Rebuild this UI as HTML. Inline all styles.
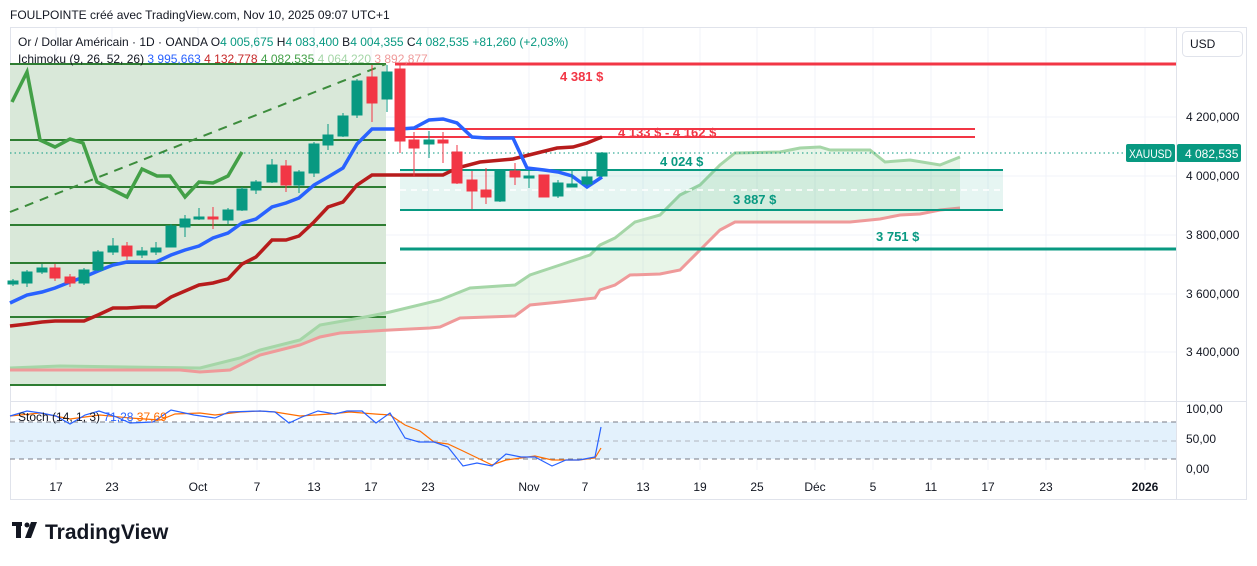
<!DOCTYPE html>
<html><head><meta charset="utf-8"><style>
body{margin:0;background:#fff;width:1257px;height:561px;overflow:hidden;font-family:"Liberation Sans",sans-serif}
svg text{font-family:"Liberation Sans",sans-serif}
</style></head><body>
<svg width="1257" height="561" viewBox="0 0 1257 561" xmlns="http://www.w3.org/2000/svg">
<text x="10" y="19" font-size="12" fill="#131722">FOULPOINTE créé avec TradingView.com, Nov 10, 2025 09:07 UTC+1</text>
<rect x="10.5" y="27.5" width="1236" height="472" fill="#fff" stroke="#e0e3eb"/>
<g stroke="#f0f3fa" stroke-width="1">
<line x1="56" y1="28" x2="56" y2="470"/><line x1="112" y1="28" x2="112" y2="470"/><line x1="198" y1="28" x2="198" y2="470"/><line x1="257" y1="28" x2="257" y2="470"/><line x1="314" y1="28" x2="314" y2="470"/><line x1="371" y1="28" x2="371" y2="470"/><line x1="428" y1="28" x2="428" y2="470"/><line x1="529" y1="28" x2="529" y2="470"/><line x1="585" y1="28" x2="585" y2="470"/><line x1="643" y1="28" x2="643" y2="470"/><line x1="700" y1="28" x2="700" y2="470"/><line x1="757" y1="28" x2="757" y2="470"/><line x1="815" y1="28" x2="815" y2="470"/><line x1="873" y1="28" x2="873" y2="470"/><line x1="931" y1="28" x2="931" y2="470"/><line x1="988" y1="28" x2="988" y2="470"/><line x1="1046" y1="28" x2="1046" y2="470"/><line x1="1145" y1="28" x2="1145" y2="470"/>
<line x1="10" y1="117" x2="1176" y2="117"/><line x1="10" y1="176" x2="1176" y2="176"/><line x1="10" y1="235" x2="1176" y2="235"/><line x1="10" y1="294" x2="1176" y2="294"/><line x1="10" y1="352" x2="1176" y2="352"/>
</g>
<line x1="10" y1="401.5" x2="1247" y2="401.5" stroke="#e0e3eb"/>
<line x1="1176.5" y1="28" x2="1176.5" y2="500" stroke="#e0e3eb"/>
<rect x="10" y="64" width="376" height="321" fill="#d9e8d9"/>
<g stroke="#2e7d32" stroke-width="2">
<line x1="10" y1="64" x2="386" y2="64"/><line x1="10" y1="140" x2="386" y2="140"/><line x1="10" y1="187" x2="386" y2="187"/><line x1="10" y1="225" x2="386" y2="225"/><line x1="10" y1="263" x2="386" y2="263"/><line x1="10" y1="317" x2="386" y2="317"/><line x1="10" y1="385" x2="386" y2="385"/>
</g>
<line x1="10" y1="212" x2="386" y2="64" stroke="#3c8c3c" stroke-width="2" stroke-dasharray="9,7"/>
<polygon fill="#4caf50" fill-opacity="0.13" points="10,368 60,366 200,368 240,358 260,350 300,340 320,325 360,318 390,312 440,300 470,288 515,285 530,275 560,265 590,255 600,245 615,238 635,222 660,215 680,195 700,185 720,165 735,153 780,152 800,148 820,147 830,150 870,150 885,162 910,160 940,165 960,157 960,208 940,210 920,214 900,215 880,219 850,222 735,222 720,230 700,250 680,270 660,274 630,275 615,285 600,290 595,298 560,302 530,305 515,316 460,318 440,327 430,328 390,330 340,333 320,337 300,345 280,350 260,355 230,370 200,372 180,370 10,370"/>
<polyline fill="none" stroke="#a5d6a7" stroke-width="3" points="10,368 60,366 200,368 240,358 260,350 300,340 320,325 360,318 390,312 440,300 470,288 515,285 530,275 560,265 590,255 600,245 615,238 635,222 660,215 680,195 700,185 720,165 735,153 780,152 800,148 820,147 830,150 870,150 885,162 910,160 940,165 960,157"/>
<polyline fill="none" stroke="#ef9a9a" stroke-width="3" points="10,370 180,370 200,372 230,370 260,355 280,350 300,345 320,337 340,333 390,330 430,328 440,327 460,318 515,316 530,305 560,302 595,298 600,290 615,285 630,275 660,274 680,270 700,250 720,230 735,222 850,222 880,219 900,215 920,214 940,210 960,208"/>
<rect x="400" y="170" width="603" height="40" fill="#089981" fill-opacity="0.1"/>
<line x1="400" y1="190" x2="1003" y2="190" stroke="#fff" stroke-width="1.5" stroke-dasharray="6,5"/>
<line x1="400" y1="170" x2="1003" y2="170" stroke="#089981" stroke-width="2"/>
<line x1="400" y1="210" x2="1003" y2="210" stroke="#089981" stroke-width="2"/>
<line x1="400" y1="249" x2="1176" y2="249" stroke="#089981" stroke-width="3"/>
<line x1="395" y1="64" x2="1176" y2="64" stroke="#f23645" stroke-width="3"/>
<line x1="400" y1="129" x2="975" y2="129" stroke="#f23645" stroke-width="2"/>
<line x1="400" y1="137" x2="975" y2="137" stroke="#f23645" stroke-width="2"/>
<g font-size="13" font-weight="bold">
<text x="560" y="81" fill="#f23645">4 381 $</text>
<text x="618" y="137" fill="#f23645">4 133 $ - 4 162 $</text>
<text x="660" y="166" fill="#089981">4 024 $</text>
<text x="733" y="204" fill="#089981">3 887 $</text>
<text x="876" y="241" fill="#089981">3 751 $</text>
</g>
<line x1="10" y1="153" x2="1127" y2="153" stroke="#089981" stroke-dasharray="1.5,3"/>
<polyline fill="none" stroke="#43a047" stroke-width="3.5" points="12,102 27,72 40,140 55,147 70,139 83,143 97,182 127,197 142,169 157,176 170,176 185,197 199,182 213,183 228,176 242,152"/>
<polyline fill="none" stroke="#b71c1c" stroke-width="3.5" points="10,326 27,324 42,322 55,321 84,321 98,315 113,308 127,308 142,307 156,307 171,297 185,291 199,285 213,283 228,279 242,264 256,257 272,240 286,240 299,236 314,222 328,207 343,202 357,185 372,175 400,175 443,175 457,168 480,162 513,159 537,153 557,148 573,147 587,143 602,137"/>
<polyline fill="none" stroke="#2962ff" stroke-width="3.5" points="10,303 27,295 42,292 55,288 70,282 84,277 98,271 113,265 127,262 156,262 171,255 185,250 199,246 213,238 228,233 242,223 256,219 272,207 286,203 299,198 314,185 328,177 343,168 357,144 372,129 387,129 400,129 414,128 429,120 443,119 457,123 472,137 486,138 513,138 527,168 544,170 558,172 572,176 587,187 602,177"/>
<g>
<g stroke="#089981" fill="#089981">
<line x1="13" y1="279" x2="13" y2="286"/><rect x="8" y="281" width="10" height="3"/>
<line x1="27" y1="270" x2="27" y2="287"/><rect x="22" y="272" width="10" height="11"/>
<line x1="42" y1="264" x2="42" y2="274"/><rect x="37" y="268" width="10" height="4"/>
<line x1="84" y1="268" x2="84" y2="285"/><rect x="79" y="270" width="10" height="13"/>
<line x1="98" y1="250" x2="98" y2="271"/><rect x="93" y="252" width="10" height="18"/>
<line x1="113" y1="238" x2="113" y2="255"/><rect x="108" y="246" width="10" height="6"/>
<line x1="142" y1="247" x2="142" y2="258"/><rect x="137" y="251" width="10" height="4"/>
<line x1="156" y1="242" x2="156" y2="255"/><rect x="151" y="248" width="10" height="4"/>
<line x1="171" y1="224" x2="171" y2="247"/><rect x="166" y="226" width="10" height="21"/>
<line x1="185" y1="215" x2="185" y2="237"/><rect x="180" y="219" width="10" height="8"/>
<line x1="199" y1="208" x2="199" y2="220"/><rect x="194" y="217" width="10" height="2"/>
<line x1="228" y1="208" x2="228" y2="224"/><rect x="223" y="210" width="10" height="10"/>
<line x1="242" y1="187" x2="242" y2="211"/><rect x="237" y="189" width="10" height="21"/>
<line x1="256" y1="180" x2="256" y2="194"/><rect x="251" y="182" width="10" height="8"/>
<line x1="272" y1="159" x2="272" y2="183"/><rect x="267" y="165" width="10" height="17"/>
<line x1="299" y1="170" x2="299" y2="193"/><rect x="294" y="172" width="10" height="13"/>
<line x1="314" y1="142" x2="314" y2="177"/><rect x="309" y="144" width="10" height="29"/>
<line x1="328" y1="124" x2="328" y2="150"/><rect x="323" y="135" width="10" height="10"/>
<line x1="343" y1="113" x2="343" y2="137"/><rect x="338" y="116" width="10" height="20"/>
<line x1="357" y1="79" x2="357" y2="118"/><rect x="352" y="81" width="10" height="34"/>
<line x1="387" y1="65" x2="387" y2="112"/><rect x="382" y="72" width="10" height="27"/>
<line x1="429" y1="131" x2="429" y2="158"/><rect x="424" y="140" width="10" height="4"/>
<line x1="500" y1="170" x2="500" y2="202"/><rect x="495" y="170" width="10" height="31"/>
<line x1="529" y1="170" x2="529" y2="188"/><rect x="524" y="176" width="10" height="2"/>
<line x1="558" y1="180" x2="558" y2="198"/><rect x="553" y="183" width="10" height="13"/>
<line x1="572" y1="171" x2="572" y2="187"/><rect x="567" y="184" width="10" height="3"/>
<line x1="587" y1="171" x2="587" y2="186"/><rect x="582" y="177" width="10" height="7"/>
<line x1="602" y1="152" x2="602" y2="177"/><rect x="597" y="153" width="10" height="23"/>
</g>
<g stroke="#f23645" fill="#f23645">
<line x1="55" y1="264" x2="55" y2="281"/><rect x="50" y="268" width="10" height="10"/>
<line x1="70" y1="274" x2="70" y2="287"/><rect x="65" y="277" width="10" height="6"/>
<line x1="127" y1="242" x2="127" y2="260"/><rect x="122" y="246" width="10" height="10"/>
<line x1="213" y1="207" x2="213" y2="229"/><rect x="208" y="217" width="10" height="2"/>
<line x1="286" y1="160" x2="286" y2="192"/><rect x="281" y="166" width="10" height="19"/>
<line x1="372" y1="65" x2="372" y2="122"/><rect x="367" y="77" width="10" height="26"/>
<line x1="400" y1="65" x2="400" y2="153"/><rect x="395" y="69" width="10" height="72"/>
<line x1="414" y1="132" x2="414" y2="176"/><rect x="409" y="140" width="10" height="8"/>
<line x1="443" y1="132" x2="443" y2="163"/><rect x="438" y="140" width="10" height="3"/>
<line x1="457" y1="145" x2="457" y2="184"/><rect x="452" y="152" width="10" height="31"/>
<line x1="472" y1="171" x2="472" y2="209"/><rect x="467" y="180" width="10" height="11"/>
<line x1="486" y1="168" x2="486" y2="204"/><rect x="481" y="190" width="10" height="7"/>
<line x1="515" y1="163" x2="515" y2="185"/><rect x="510" y="171" width="10" height="6"/>
<line x1="544" y1="175" x2="544" y2="197"/><rect x="539" y="175" width="10" height="22"/>
</g>
</g>
<g font-size="12">
<text x="18" y="46" fill="#131722">Or / Dollar Américain · 1D · OANDA <tspan>O</tspan><tspan fill="#089981">4 005,675</tspan> H<tspan fill="#089981">4 083,400</tspan> B<tspan fill="#089981">4 004,355</tspan> C<tspan fill="#089981">4 082,535</tspan> <tspan fill="#089981">+81,260 (+2,03%)</tspan></text>
<text x="18" y="63" fill="#131722">Ichimoku (9, 26, 52, 26) <tspan fill="#2962ff">3 995,663</tspan> <tspan fill="#c62828">4 132,778</tspan> <tspan fill="#43a047">4 082,535</tspan> <tspan fill="#a5d6a7">4 064,220</tspan> <tspan fill="#ef9a9a">3 892,877</tspan></text>
</g>
<rect x="1182.5" y="31.5" width="60" height="25" rx="4" fill="#fff" stroke="#e0e3eb"/>
<text x="1190" y="48" font-size="12" fill="#131722">USD</text>
<g font-size="12" fill="#131722">
<text x="1186" y="121">4 200,000</text><text x="1186" y="180">4 000,000</text><text x="1186" y="239">3 800,000</text><text x="1186" y="298">3 600,000</text><text x="1186" y="356">3 400,000</text>
<text x="1186" y="413">100,00</text><text x="1186" y="443">50,00</text><text x="1186" y="473">0,00</text>
</g>
<rect x="1126" y="144" width="49" height="18" rx="2" fill="#089981"/>
<text x="1150.5" y="158" font-size="12" fill="#fff" text-anchor="middle" textLength="43" lengthAdjust="spacingAndGlyphs">XAUUSD</text>
<rect x="1177" y="144" width="64" height="18" rx="2" fill="#089981"/>
<text x="1185" y="158" font-size="12" fill="#fff">4 082,535</text>
<rect x="10" y="422" width="1166" height="37" fill="#e3f1fc"/>
<g stroke="#787b86" stroke-dasharray="5,4"><line x1="10" y1="422" x2="1176" y2="422"/><line x1="10" y1="441" x2="1176" y2="441" stroke="#b2b5be"/><line x1="10" y1="459" x2="1176" y2="459"/></g>
<polyline fill="none" stroke="#ff6d00" stroke-width="1.2" points="10,416 40,413 70,419 100,415 130,418 160,420 175,414 200,413 215,415 240,412 260,411 275,412 300,416 330,414 350,412 375,414 390,415 405,425 420,431 434,442 448,444 463,451 492,465 506,460 535,456 552,460 579,460 595,458 601,448"/>
<polyline fill="none" stroke="#2962ff" stroke-width="1.2" points="10,416 27,411 41,413 56,416 70,424 85,415 99,411 114,416 130,423 153,422 171,410 194,415 215,418 229,412 260,411 275,412 289,423 302,417 318,411 335,414 347,411 362,411 376,423 390,413 405,438 419,442 434,442 448,447 463,466 477,463 492,466 506,454 521,457 535,457 552,466 566,460 579,460 595,457 601,427"/>
<text x="18" y="421" font-size="12" fill="#131722">Stoch (14, 1, 3) <tspan fill="#2962ff">71,28</tspan> <tspan fill="#ff6d00">37,69</tspan></text>
<g font-size="12" fill="#131722" text-anchor="middle">
<text x="56" y="491">17</text><text x="112" y="491">23</text><text x="198" y="491">Oct</text><text x="257" y="491">7</text><text x="314" y="491">13</text><text x="371" y="491">17</text><text x="428" y="491">23</text><text x="529" y="491">Nov</text><text x="585" y="491">7</text><text x="643" y="491">13</text><text x="700" y="491">19</text><text x="757" y="491">25</text><text x="815" y="491">Déc</text><text x="873" y="491">5</text><text x="931" y="491">11</text><text x="988" y="491">17</text><text x="1046" y="491">23</text><text x="1145" y="491" font-weight="bold">2026</text>
</g>
<g fill="#131722">
<rect x="12" y="522" width="10" height="4"/><rect x="16" y="522" width="5" height="16"/>
<circle cx="27" cy="525" r="2.5"/><polygon points="31,522 37,522 31,538 25,538"/>
<text x="45" y="539" font-size="21" font-weight="bold">TradingView</text>
</g>
</svg>
</body></html>
